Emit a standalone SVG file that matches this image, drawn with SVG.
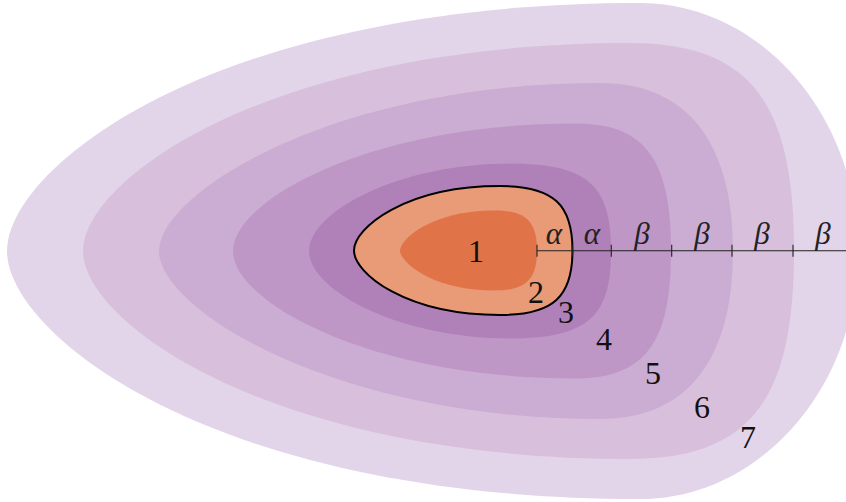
<svg xmlns="http://www.w3.org/2000/svg" width="846" height="502" viewBox="0 0 846 502">
<style>
.num{font-family:"Liberation Serif","DejaVu Serif",serif;font-size:32px;fill:#111;text-anchor:middle}
.gr{font-family:"Liberation Serif","DejaVu Serif",serif;font-style:italic;font-size:31px;fill:#222;text-anchor:middle}
.ax{stroke:#222;stroke-width:1.1;fill:none}
</style>
<rect width="846" height="502" fill="#ffffff"/>
<g id="layer7"><path fill="#e3d5e9" d="M7,251 C7,168 212,3 640,3 C759.9,3 858,114.6 858,251 C858,387.4 759.9,499 640,499 C212,499 7,334 7,251Z"/></g>
<g id="layer6"><path fill="#d8c0dc" d="M83,251 C83,178.2 274.4,43 630,43 C753,43 794,105.4 794,251 C794,396.6 753,459 630,459 C274.4,459 83,323.8 83,251Z"/></g>
<g id="layer5"><path fill="#cbadd3" d="M159,251 C159,192.2 335.4,83 600,83 C693.1,83 733,150.2 733,251 C733,351.8 693.1,419 600,419 C335.4,419 159,309.8 159,251Z"/></g>
<g id="layer4"><path fill="#bf97c6" d="M233,251 C233,200 369.8,123.5 575,123.5 C647,123.5 671,161.75 671,251 C671,340.25 647,378.5 575,378.5 C369.8,378.5 233,302 233,251Z"/></g>
<g id="layer3"><path fill="#b081b9" d="M309,251 C309,211.6 399.4,163.5 510,163.5 C590.8,163.5 611,188 611,251 C611,314 590.8,338.5 510,338.5 C399.4,338.5 309,290.4 309,251Z"/></g>
<g id="layer2"><path fill="#e99a76" stroke="#000" stroke-width="2" d="M354,250.5 C354,227.9 405.1,186 500,186 C554.4,186 572.5,205.35 572.5,250.5 C572.5,295.65 554.4,315 500,315 C405.1,315 354,273.1 354,250.5Z"/></g>
<g id="layer1"><path fill="#e07448" d="M400,250.5 C400,240 430,210.5 495,210.5 C526.5,210.5 537,222.5 537,250.5 C537,278.5 526.5,290.5 495,290.5 C430,290.5 400,261 400,250.5Z"/></g>
<g id="axis">
<path class="ax" d="M537,250.7 H846 M537,244.7 V256.7 M572.3,244.7 V256.7 M611.3,244.7 V256.7 M671.7,244.7 V256.7 M732,244.7 V256.7 M793,244.7 V256.7"/>
<text class="gr" x="554" y="244">α</text>
<text class="gr" x="592" y="244">α</text>
<text class="gr" x="642" y="244">β</text>
<text class="gr" x="702" y="244">β</text>
<text class="gr" x="762" y="244">β</text>
<text class="gr" x="823" y="244">β</text>
</g>
<g id="labels">
<text class="num" x="476" y="262">1</text>
<text class="num" x="536" y="303">2</text>
<text class="num" x="566" y="323">3</text>
<text class="num" x="604" y="350">4</text>
<text class="num" x="653" y="384">5</text>
<text class="num" x="702" y="418">6</text>
<text class="num" x="748" y="448">7</text>
</g>
</svg>
